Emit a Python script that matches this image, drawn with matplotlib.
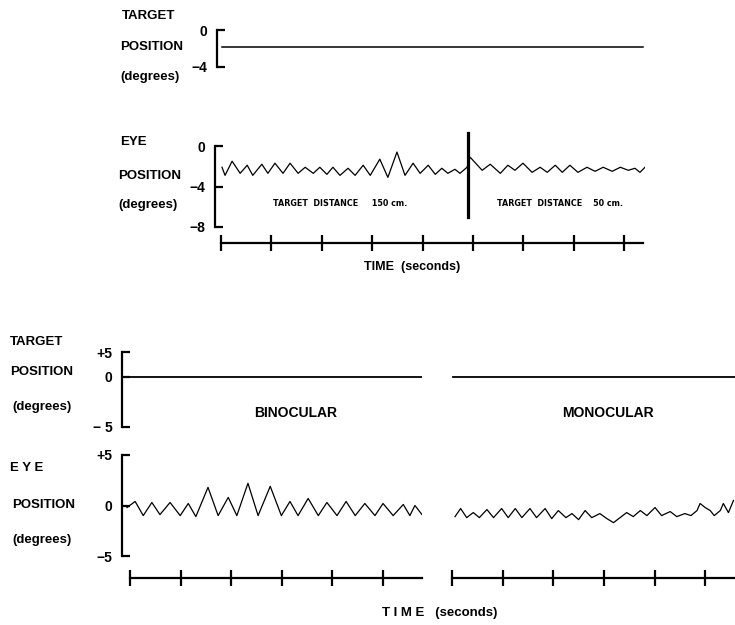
import matplotlib
matplotlib.use("Agg")
import matplotlib.pyplot as plt
import numpy as np

plt.rcParams['font.family'] = ['Liberation Sans', 'DejaVu Sans']
plt.rcParams['font.weight'] = 'bold'

W, H = 735, 625

# --- upper record: near / far target, eye position in degrees vs time (s)
top_target_level = -1.8
top_t = [0.02, 0.08, 0.22, 0.38, 0.52, 0.63, 0.81, 0.93, 1.07, 1.23, 1.37, 1.53,
         1.67, 1.83, 1.96, 2.10, 2.22, 2.36, 2.52, 2.66, 2.82, 2.96, 3.15, 3.31,
         3.49, 3.65, 3.81, 3.95, 4.11, 4.25, 4.38, 4.50, 4.64, 4.74, 4.88, 4.94,
         5.18, 5.34, 5.54, 5.69, 5.83, 5.99, 6.17, 6.33, 6.47, 6.63, 6.77, 6.92,
         7.08, 7.26, 7.42, 7.58, 7.76, 7.92, 8.08, 8.21, 8.31, 8.41]
top_eye = [-2.1, -2.9, -1.5, -2.7, -1.9, -2.9, -1.8, -2.7, -1.7, -2.7, -1.7, -2.7,
           -2.1, -2.7, -2.1, -2.8, -2.1, -2.9, -2.2, -2.9, -1.9, -2.9, -1.3, -3.1,
           -0.6, -2.9, -1.7, -2.7, -1.9, -2.8, -2.2, -2.7, -2.3, -2.7, -2.1, -1.1,
           -2.4, -1.8, -2.7, -1.9, -2.4, -1.7, -2.6, -2.1, -2.6, -1.9, -2.6, -1.9,
           -2.6, -2.1, -2.5, -2.1, -2.5, -2.1, -2.4, -2.2, -2.6, -2.1]
switch_t = 4.90
switch_span = (-7.0, 1.3)
distance_notes = [(2.36, 'TARGET  DISTANCE     150 cm.'),
                  (6.73, 'TARGET  DISTANCE    50 cm.')]

# --- lower record: binocular vs monocular viewing
bino_t = [-0.06, 0.10, 0.26, 0.43, 0.59, 0.79, 0.99, 1.15, 1.30, 1.54, 1.74, 1.94,
          2.11, 2.33, 2.53, 2.77, 2.99, 3.16, 3.32, 3.52, 3.72, 3.89, 4.09, 4.27,
          4.45, 4.64, 4.84, 5.00, 5.20, 5.40, 5.53, 5.63, 5.77]
bino_eye = [-0.2, 0.4, -1.0, 0.3, -0.9, 0.3, -1.0, 0.2, -1.1, 1.8, -1.0, 0.8,
            -1.0, 2.2, -1.0, 1.9, -1.0, 0.4, -1.0, 0.7, -1.0, 0.3, -1.0, 0.4,
            -1.0, 0.2, -1.0, 0.2, -1.0, 0.1, -1.0, 0.0, -0.9]
mono_t = [0.06, 0.17, 0.29, 0.42, 0.54, 0.69, 0.82, 0.98, 1.11, 1.25, 1.38, 1.54,
          1.67, 1.84, 1.97, 2.10, 2.25, 2.37, 2.50, 2.63, 2.76, 2.92, 3.06, 3.19,
          3.32, 3.45, 3.58, 3.72, 3.85, 4.01, 4.14, 4.31, 4.44, 4.60, 4.72, 4.84,
          4.90, 5.00, 5.10, 5.18, 5.30, 5.36, 5.46, 5.56]
mono_eye = [-1.1, -0.3, -1.2, -0.7, -1.2, -0.4, -1.2, -0.3, -1.2, -0.3, -1.2, -0.3,
            -1.2, -0.3, -1.3, -0.5, -1.2, -0.8, -1.4, -0.5, -1.2, -0.8, -1.3, -1.7,
            -1.2, -0.7, -1.1, -0.5, -1.0, -0.2, -1.0, -0.6, -1.1, -0.8, -1.0, -0.5,
            0.2, -0.2, -0.5, -1.0, -0.5, 0.2, -0.7, 0.5]
lower_target_level = 0.0

LW = 1.6


def box(x0, y0, x1, y1):
    # pixel box -> figure fraction rect
    return [x0 / W, 1 - y1 / H, (x1 - x0) / W, (y1 - y0) / H]


def px(p):
    return p * 72 / 100


def style(ax, left=True):
    for s in ('top', 'right'):
        ax.spines[s].set_visible(False)
    ax.spines['bottom'].set_visible(False)
    ax.spines['left'].set_visible(left)
    ax.spines['left'].set_linewidth(LW)
    ax.tick_params(axis='y', direction='in', length=6, width=LW, labelsize=10,
                   pad=7, left=left, labelleft=left)
    ax.tick_params(axis='x', bottom=False, labelbottom=False)
    ax.patch.set_alpha(0)


def time_axis(ax, drop, end, nticks):
    sp = ax.spines['bottom']
    sp.set_visible(True)
    sp.set_position(('outward', px(drop)))
    sp.set_bounds(0, end)
    sp.set_linewidth(LW)
    ax.set_xticks(range(nticks))
    ax.tick_params(axis='x', bottom=True, direction='inout', length=11,
                   width=LW, labelbottom=False)


fig = plt.figure(figsize=(W / 100, H / 100), dpi=100)

# upper target
ax = fig.add_axes(box(221, 30, 645, 67))
style(ax)
ax.spines['left'].set_position(('outward', px(4)))
ax.plot([0.02, 8.37], [top_target_level] * 2, color='black', lw=1.1)
ax.set_xlim(0, 8.41)
ax.set_ylim(-4, 0)
ax.set_yticks([0, -4], ['0', '−4'])

# upper eye
ax = fig.add_axes(box(221, 146, 645, 227))
style(ax)
ax.spines['left'].set_position(('outward', px(6)))
ax.plot(top_t, top_eye, color='black', lw=0.9, solid_joinstyle='round')
ax.plot([switch_t, switch_t], switch_span, color='black', lw=2.3, clip_on=False)
ax.set_xlim(0, 8.41)
ax.set_ylim(-8, 0)
ax.set_yticks([0, -4, -8], ['0', '−4', '−8'])
time_axis(ax, 16, 8.37, 9)
for t, s in distance_notes:
    ax.text(t, -5.7, s, fontsize=5.8, family='DejaVu Sans', ha='center',
            va='center')


def fwd(v):
    v = np.asarray(v, dtype=float)
    return np.where(v > 0, v / 2, v)


def inv(u):
    u = np.asarray(u, dtype=float)
    return np.where(u > 0, u * 2, u)


# lower target, binocular and monocular
for x0, x1, xl, left, label, cx in [(122, 422, (-0.16, 5.77), True, 'BINOCULAR', 296),
                                    (452, 735, (0, 5.59), False, 'MONOCULAR', 608)]:
    ax = fig.add_axes(box(x0, 352, x1, 427))
    style(ax, left)
    ax.set_yscale('function', functions=(fwd, inv))
    ax.plot([xl[0] + 0.02, xl[1]], [lower_target_level] * 2, color='black', lw=1.3)
    ax.set_xlim(*xl)
    ax.set_ylim(-5, 5)
    ax.set_yticks([5, 0, -5], ['+5', '0', '− 5'])
    ax.minorticks_off()
    fig.text(cx / W, 1 - 413 / H, label, fontsize=10, ha='center', va='center')

# lower eye, binocular
ax = fig.add_axes(box(122, 455, 422, 556))
style(ax)
ax.plot(bino_t, bino_eye, color='black', lw=0.9, solid_joinstyle='round')
ax.set_xlim(-0.16, 5.77)
ax.set_ylim(-5, 5)
ax.set_yticks([5, 0, -5], ['+5', '0', '−5'])
time_axis(ax, 22, 5.77, 6)

# lower eye, monocular
ax = fig.add_axes(box(452, 455, 735, 556))
style(ax, left=False)
ax.plot(mono_t, mono_eye, color='black', lw=0.9, solid_joinstyle='round')
ax.set_xlim(0, 5.59)
ax.set_ylim(-5, 5)
time_axis(ax, 22, 5.59, 6)

# row labels
labels = [(122, 16, 'TARGET'), (120, 47, 'POSITION'), (120, 77, '(degrees)'),
          (120, 142, 'EYE'), (118, 176, 'POSITION'), (118, 205, '(degrees)'),
          (10, 342, 'TARGET'), (10, 372, 'POSITION'), (12, 407, '(degrees)'),
          (10, 468, 'E Y E'), (12, 505, 'POSITION'), (12, 540, '(degrees)')]
for x, y, s in labels:
    fig.text(x / W, 1 - y / H, s, fontsize=9.5, ha='left', va='center')

fig.text(412 / W, 1 - 267 / H, 'TIME  (seconds)', fontsize=9, ha='center',
         va='center')
fig.text(440 / W, 1 - 613 / H, 'T I M E   (seconds)', fontsize=9.5,
         ha='center', va='center')

fig.savefig('out.png', dpi=100)
